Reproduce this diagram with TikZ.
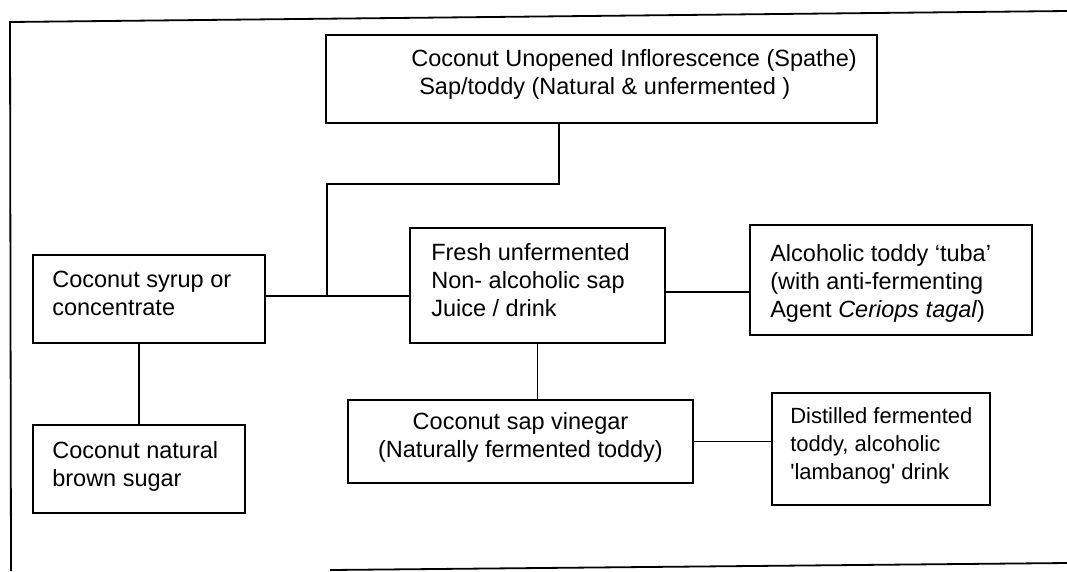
\documentclass[tikz,border=0pt]{standalone}
\usepackage{fontspec}
\setmainfont{Liberation Sans}
\usepackage{tikz}

\tikzset{
  prodbox/.style={draw, line width=1.8pt, inner sep=0pt},
  boxtext/.style={inner sep=0pt, align=left, anchor=north west},
  link/.style={line width=1.5pt}
}

\begin{document}
\begin{tikzpicture}[x=1pt, y=-1pt, font=\fontsize{23.5}{28}\selectfont]
    \useasboundingbox (0,0) rectangle (1067,571);

    % Frame
    \draw[line width=1.8pt] (11,571) -- (10,22) -- (1067,11);
    \draw[line width=1.8pt] (330,570) -- (1067,563);

    % Boxes
    \node[prodbox, minimum width=551, minimum height=88] (spathe) at (601.5,79) {};
    \node[prodbox, minimum width=232, minimum height=88] (syrup) at (149,299) {};
    \node[prodbox, minimum width=255, minimum height=115] (fresh) at (537.5,285.5) {};
    \node[prodbox, minimum width=282, minimum height=110] (tuba) at (891,280) {};
    \node[prodbox, minimum width=212, minimum height=88] (sugar) at (139,469) {};
    \node[prodbox, minimum width=345, minimum height=83] (vinegar) at (520.5,441.5) {};
    \node[prodbox, minimum width=218, minimum height=112] (distilled) at (881,449) {};

    % Texts
    \node[boxtext] (spathe-txt) at ([xshift=86pt, yshift=-15pt]spathe.north west)
        {Coconut Unopened Inflorescence (Spathe)\\\hspace{8pt}Sap/toddy (Natural \& unfermented )};
    \node[boxtext] (syrup-txt) at ([xshift=20pt, yshift=-17pt]syrup.north west)
        {Coconut syrup or\\concentrate};
    \node[boxtext] (fresh-txt) at ([xshift=22pt, yshift=-16pt]fresh.north west)
        {Fresh unfermented\\Non- alcoholic sap\\Juice / drink};
    \node[boxtext] (tuba-txt) at ([xshift=21pt, yshift=-20pt]tuba.north west)
        {Alcoholic toddy `tuba'\\(with anti-fermenting\\Agent \textit{Ceriops tagal})};
    \node[boxtext] (sugar-txt) at ([xshift=20pt, yshift=-17pt]sugar.north west)
        {Coconut natural\\brown sugar};
    \node[inner sep=0pt, align=center, anchor=north] (vinegar-txt) at ([yshift=-13pt]vinegar.north)
        {Coconut sap vinegar\\(Naturally fermented toddy)};
    \node[boxtext, font=\fontsize{22}{28}\selectfont] (distilled-txt) at ([xshift=19pt, yshift=-15pt]distilled.north west)
        {Distilled fermented\\toddy, alcoholic\\\textquotesingle lambanog\textquotesingle{} drink};

    % Connectors
    \coordinate (join) at (327,296);
    \coordinate (bend) at (327,184);
    \draw[link] ([xshift=-42.5pt]spathe.south) |- (bend) -- (join);
    \draw[link] (syrup.east |- join) -- (fresh.west |- join);
    \coordinate (tj) at ([yshift=-6.5pt]fresh.east);
    \draw[link] (tj) -- (tj -| tuba.west);
    \draw[link] (sugar.north) -- (sugar.north |- syrup.south);
    \draw[link] (fresh.south) -- (fresh.south |- vinegar.north);
    \draw[link] (vinegar.east) -- (vinegar.east -| distilled.west);
\end{tikzpicture}
\end{document}
